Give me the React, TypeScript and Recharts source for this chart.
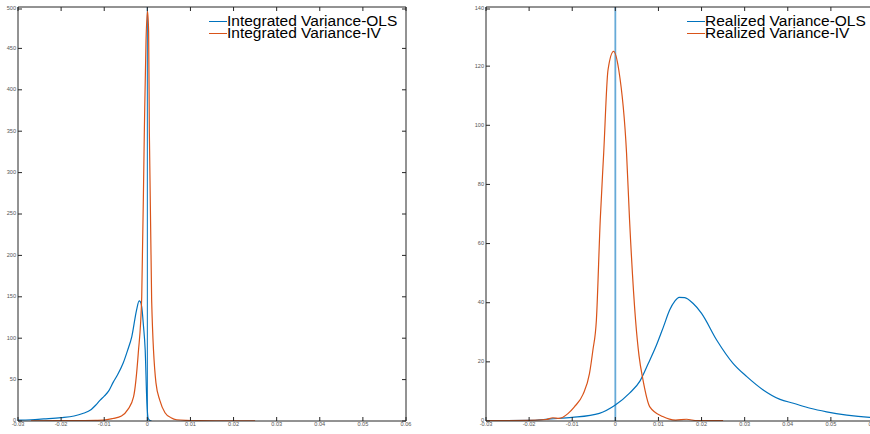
import React from "react";
import { LineChart, Line, XAxis, YAxis, ReferenceLine } from "recharts";

const BLUE = "#0072BD";
const ORANGE = "#D95319";
const AXIS = "#262626";
const FONT = "'Liberation Sans', Arial, Helvetica, sans-serif";

const xTicks = [-0.03, -0.02, -0.01, 0, 0.01, 0.02, 0.03, 0.04, 0.05, 0.06];
const leftYTicks = [0, 50, 100, 150, 200, 250, 300, 350, 400, 450, 500];
const rightYTicks = [0, 20, 40, 60, 80, 100, 120, 140];

// Integrated variance (left panel)
const intOlsX = [-0.03, -0.027, -0.024, -0.02, -0.017, -0.015, -0.013, -0.012, -0.011, -0.01, -0.009, -0.0079, -0.007, -0.0056, -0.0046, -0.0036, -0.0025, -0.0019, -0.0016, -0.0013, -0.0009, -0.0005, -0.0001, 0.0002, 0.0006, 0.001];
const intOlsY = [1, 1.5, 2.5, 4, 6, 9, 14, 19, 25, 30, 36, 47, 55, 70, 85, 102, 134, 145, 144, 138, 115, 86, 22, 3, 0.5, 0];
const intIvX = [-0.027, -0.02, -0.015, -0.012, -0.0102, -0.008, -0.006, -0.0045, -0.0032, -0.0021, -0.0013, -0.0007, -0.0003, 0.00005, 0.0003, 0.00047, 0.001, 0.002, 0.0029, 0.0041, 0.0055, 0.0068, 0.009, 0.012, 0.016, 0.02, 0.025];
const intIvY = [0.3, 0.4, 0.6, 0.8, 1, 3, 6, 14, 29, 82, 150, 348, 460, 495, 470, 348, 146, 46, 25, 10, 4, 1.5, 0.7, 0.4, 0.3, 0.3, 0.3];

// Realized variance (right panel)
const realOlsX = [-0.03, -0.02, -0.015, -0.01, -0.0037, 0, 0.0033, 0.0057, 0.0075, 0.0095, 0.0112, 0.0126, 0.0138, 0.0148, 0.0161, 0.018, 0.02, 0.0235, 0.0273, 0.0305, 0.0343, 0.0382, 0.0413, 0.0452, 0.049, 0.0537, 0.059, 0.06];
const realOlsY = [0.1, 0.2, 0.7, 1.2, 2.6, 5.4, 9.4, 13.5, 19, 25.5, 32, 37.5, 40.5, 41.8, 41.7, 39.8, 36.4, 27.4, 19.5, 15, 10.5, 7.3, 6, 4.3, 3.1, 2, 1.2, 1.1];
const realIvX = [-0.03, -0.02, -0.016, -0.0145, -0.013, -0.011, -0.0095, -0.0075, -0.006, -0.0052, -0.0044, -0.0035, -0.0027, -0.0017, -0.0004, 0.0008, 0.0026, 0.0033, 0.0047, 0.0055, 0.0064, 0.008, 0.011, 0.014, 0.0165, 0.019, 0.025];
const realIvY = [0.1, 0.2, 0.5, 1.1, 0.9, 2.5, 4.8, 9, 16, 24, 34, 68, 90.6, 118.7, 125, 118.7, 90.6, 68, 34, 22, 14, 4.8, 1.5, 0.3, 0.6, 0.1, 0.1];

const zip = (xs: number[], ys: number[]) => xs.map((x, i) => ({ x, y: ys[i] }));

const fmtX = (v: number) => (v === 0 ? "0" : v.toFixed(2));

const tickText = { fontSize: 5.6, fill: "#555", fontFamily: FONT };

function BottomTick(props: any) {
  const { x, y, payload } = props;
  return (
    <g>
      <line x1={x} x2={x} y1={y} y2={y - 4} stroke={AXIS} />
      <text x={x} y={y + 4} textAnchor="middle" dominantBaseline="middle" {...tickText}>
        {fmtX(payload.value)}
      </text>
    </g>
  );
}

function TopTick(props: any) {
  const { x, y } = props;
  return <line x1={x} x2={x} y1={y} y2={y + 4} stroke={AXIS} />;
}

function LeftTick(props: any) {
  const { x, y, payload } = props;
  return (
    <g>
      <line x1={x} x2={x + 4} y1={y} y2={y} stroke={AXIS} />
      <text x={x - 2} y={y} textAnchor="end" dominantBaseline="middle" {...tickText}>
        {payload.value}
      </text>
    </g>
  );
}

function RightTick(props: any) {
  const { x, y } = props;
  return <line x1={x} x2={x - 4} y1={y} y2={y} stroke={AXIS} />;
}

function LegendBox({ labels, left }: { labels: string[]; left: number }) {
  const colors = [BLUE, ORANGE];
  return (
    <div style={{ position: "absolute", left, top: 15, fontFamily: FONT, fontSize: 15.5, color: "#000" }}>
      {labels.map((label, i) => (
        <div key={label} style={{ display: "flex", alignItems: "center", height: 12, lineHeight: "12px", whiteSpace: "nowrap" }}>
          <span style={{ display: "inline-block", width: 18, height: 0, borderTop: `1px solid ${colors[i]}`, position: "relative", top: 0.5 }} />
          <span>{label}</span>
        </div>
      ))}
    </div>
  );
}

function Panel({
  ols,
  iv,
  yTicks,
  yMax,
  refStyle,
}: {
  ols: { x: number; y: number }[];
  iv: { x: number; y: number }[];
  yTicks: number[];
  yMax: number;
  refStyle: { stroke: string; strokeOpacity: number; strokeWidth: number };
}) {
  return (
    <LineChart width={420} height={434} margin={{ top: 6, right: 13, left: 0, bottom: 0 }}>
      <XAxis
        dataKey="x"
        type="number"
        domain={[-0.03, 0.06]}
        ticks={xTicks}
        allowDataOverflow
        height={13}
        tickSize={0}
        tickMargin={0}
        tick={<BottomTick />}
        tickLine={false}
        axisLine={{ stroke: AXIS }}
      />
      <XAxis
        xAxisId="top"
        dataKey="x"
        orientation="top"
        type="number"
        domain={[-0.03, 0.06]}
        ticks={xTicks}
        allowDataOverflow
        height={1}
        tickSize={0}
        tickMargin={0}
        tick={<TopTick />}
        tickLine={false}
        axisLine={{ stroke: AXIS }}
      />
      <YAxis
        type="number"
        domain={[0, yMax]}
        ticks={yTicks}
        allowDataOverflow
        width={18}
        tickSize={0}
        tickMargin={0}
        tick={<LeftTick />}
        tickLine={false}
        axisLine={{ stroke: AXIS }}
      />
      <YAxis
        yAxisId="right"
        orientation="right"
        type="number"
        domain={[0, yMax]}
        ticks={yTicks}
        allowDataOverflow
        width={1}
        tickSize={0}
        tickMargin={0}
        tick={<RightTick />}
        tickLine={false}
        axisLine={{ stroke: AXIS }}
      />
      <ReferenceLine x={0} {...refStyle} />
      <Line data={ols} dataKey="y" type="monotone" stroke={BLUE} strokeWidth={1.2} dot={false} isAnimationActive={false} />
      <Line
        data={iv}
        dataKey="y"
        xAxisId="top"
        yAxisId="right"
        type="monotone"
        stroke={ORANGE}
        strokeWidth={1.2}
        dot={false}
        isAnimationActive={false}
      />
    </LineChart>
  );
}

export default function App() {
  return (
    <div style={{ position: "fixed", left: 0, top: 0, width: 870, height: 434, overflow: "hidden", background: "#fff" }}>
      <div style={{ position: "absolute", left: 0, top: 0 }}>
        <Panel
          ols={zip(intOlsX, intOlsY)}
          iv={zip(intIvX, intIvY)}
          yTicks={leftYTicks}
          yMax={500}
          refStyle={{ stroke: BLUE, strokeOpacity: 1, strokeWidth: 1 }}
        />
        <LegendBox labels={["Integrated Variance-OLS", "Integrated Variance-IV"]} left={209} />
      </div>
      <div style={{ position: "absolute", left: 468, top: 0 }}>
        <Panel
          ols={zip(realOlsX, realOlsY)}
          iv={zip(realIvX, realIvY)}
          yTicks={rightYTicks}
          yMax={140}
          refStyle={{ stroke: BLUE, strokeOpacity: 0.6, strokeWidth: 1.8 }}
        />
        <LegendBox labels={["Realized Variance-OLS", "Realized Variance-IV"]} left={219} />
      </div>
    </div>
  );
}
